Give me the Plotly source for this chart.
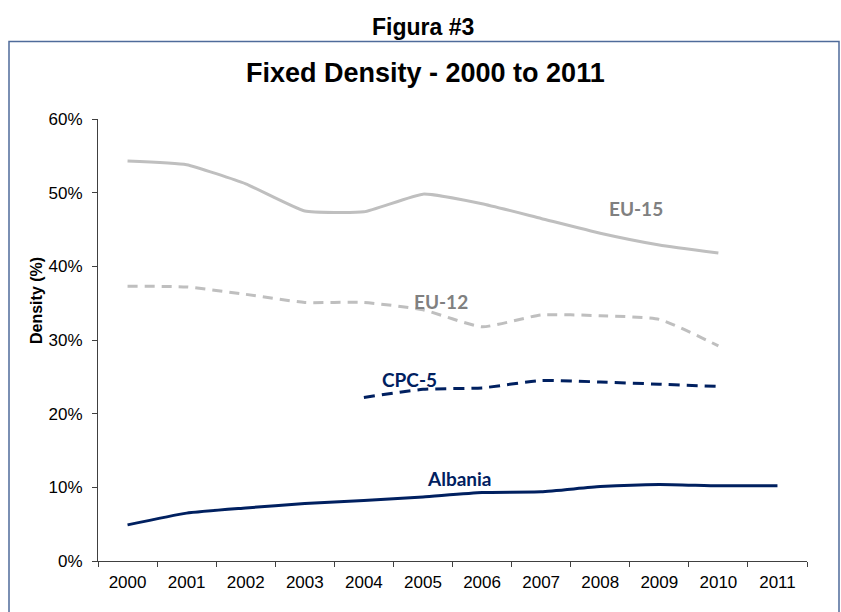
import plotly.graph_objects as go

years = ["2000", "2001", "2002", "2003", "2004", "2005", "2006", "2007", "2008", "2009", "2010", "2011"]
eu15 = [0.543, 0.538, 0.512, 0.475, 0.474, 0.498, 0.485, 0.465, 0.445, 0.429, 0.418, None]
eu12 = [0.373, 0.372, 0.362, 0.351, 0.351, 0.341, 0.318, 0.334, 0.333, 0.328, 0.292, None]
cpc5 = [None, None, None, None, 0.222, 0.233, 0.235, 0.245, 0.243, 0.240, 0.237, None]
albania = [0.049, 0.065, 0.072, 0.078, 0.082, 0.087, 0.093, 0.094, 0.101, 0.104, 0.102, 0.102]

GRAY = "#BFBFBF"
NAVY = "#002060"

fig = go.Figure()
fig.add_trace(go.Scatter(x=years, y=eu15, mode="lines", name="EU-15",
                         line=dict(color=GRAY, width=3, shape="spline", smoothing=0.4)))
fig.add_trace(go.Scatter(x=years, y=eu12, mode="lines", name="EU-12",
                         line=dict(color=GRAY, width=3, dash="10px,7px", shape="spline", smoothing=0.5)))
fig.add_trace(go.Scatter(x=years, y=cpc5, mode="lines", name="CPC-5",
                         line=dict(color=NAVY, width=3, dash="11px,7px", shape="spline", smoothing=0.5)))
fig.add_trace(go.Scatter(x=years, y=albania, mode="lines", name="Albania",
                         line=dict(color=NAVY, width=3, shape="spline", smoothing=0.5)))

L, R, T, B = 98, 34, 119, 51
W, H = 841, 612
pw, ph = W - L - R, H - T - B

def px(xp):
    return (xp - L) / pw

def py(yp):
    return (H - B - yp) / ph

label_font = "Lato, 'Noto Sans', sans-serif"
annotations = [
    dict(text="<b>Figura #3</b>", xref="paper", yref="paper", x=px(423), y=py(27),
         showarrow=False, xanchor="center", yanchor="middle",
         font=dict(family="'Liberation Sans', Arial, sans-serif", size=23, color="black")),
    dict(text="<b>Fixed Density - 2000 to 2011</b>", xref="paper", yref="paper", x=px(425), y=py(73),
         showarrow=False, xanchor="center", yanchor="middle",
         font=dict(family="'Liberation Sans', Arial, sans-serif", size=27, color="black")),
    dict(text="<b>Density (%)</b>", xref="paper", yref="paper", x=px(36), y=py(301),
         showarrow=False, xanchor="center", yanchor="middle", textangle=-90,
         font=dict(family="'Liberation Sans', Arial, sans-serif", size=16, color="black")),
    dict(text="<b>EU-15</b>", x=8.6, y=0.4786, xref="x", yref="y", showarrow=False,
         font=dict(family=label_font, size=19, color="#808080")),
    dict(text="<b>EU-12</b>", x=5.31, y=0.3518, xref="x", yref="y", showarrow=False,
         font=dict(family=label_font, size=19, color="#808080")),
    dict(text="<b>CPC-5</b>", x=4.77, y=0.247, xref="x", yref="y", showarrow=False,
         font=dict(family=label_font, size=19, color=NAVY)),
    dict(text="<b>Albania</b>", x=5.62, y=0.1126, xref="x", yref="y", showarrow=False,
         font=dict(family=label_font, size=19, color=NAVY)),
]

shapes = [
    dict(type="rect", xref="paper", yref="paper", x0=px(9), x1=px(839), y0=py(640), y1=py(41.5),
         line=dict(color="#4F6B9A", width=1.5), fillcolor="rgba(0,0,0,0)", layer="below"),
]

fig.update_layout(
    width=W, height=H,
    margin=dict(l=L, r=R, t=T, b=B),
    paper_bgcolor="white", plot_bgcolor="white",
    showlegend=False,
    annotations=annotations,
    shapes=shapes,
    font=dict(family="'Liberation Sans', Arial, sans-serif", size=17, color="black"),
    xaxis=dict(type="category", categoryorder="array", categoryarray=years,
               range=[-0.5, 11.5], tickson="boundaries", ticks="outside", ticklen=5,
               tickcolor="#404040", showline=True, linecolor="#404040", linewidth=1,
               showgrid=False, zeroline=False, tickfont=dict(size=17), ticklabelstandoff=6),
    yaxis=dict(range=[0, 0.6], dtick=0.1, tickformat=".0%", ticks="outside", ticklen=5,
               tickcolor="#404040", showline=True, linecolor="#404040", linewidth=1,
               showgrid=False, zeroline=False, tickfont=dict(size=17), ticklabelstandoff=6),
)

fig.write_html("out.html", config={"displayModeBar": False},
               post_script="document.body.style.margin='0';document.body.style.padding='0';")
